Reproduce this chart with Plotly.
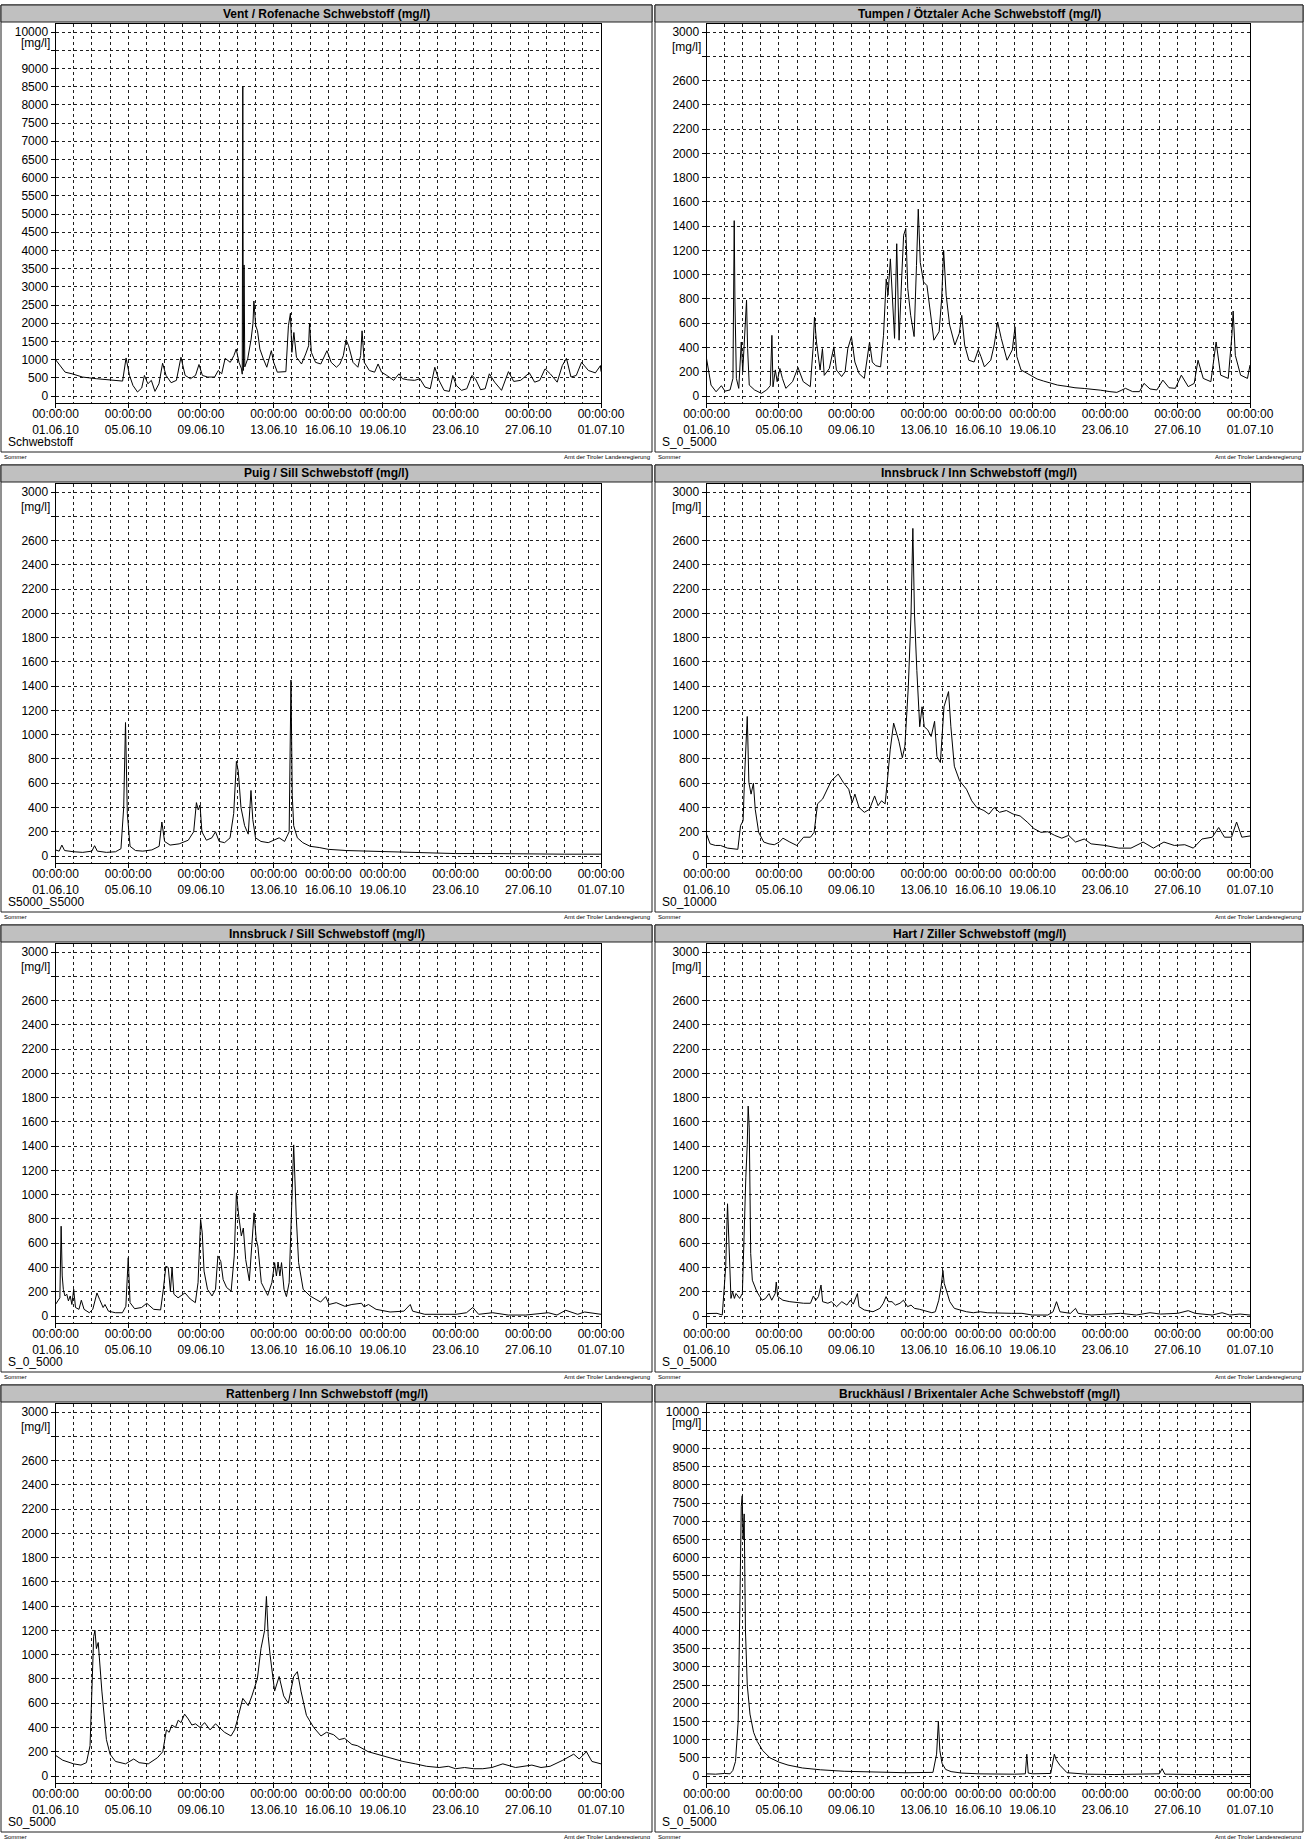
import pandas as pd
import plotly.graph_objects as go

# ---------------- data (day offset since 01.06.2010 00:00, value mg/l) ----------------
titles = [
    "Vent / Rofenache Schwebstoff (mg/l)",
    "Tumpen / Ötztaler Ache Schwebstoff (mg/l)",
    "Puig / Sill Schwebstoff (mg/l)",
    "Innsbruck / Inn Schwebstoff (mg/l)",
    "Innsbruck / Sill Schwebstoff (mg/l)",
    "Hart / Ziller Schwebstoff (mg/l)",
    "Rattenberg / Inn Schwebstoff (mg/l)",
    "Bruckhäusl / Brixentaler Ache Schwebstoff (mg/l)",
]
bottom_labels = ["Schwebstoff", "S_0_5000", "S5000_S5000", "S0_10000",
                 "S_0_5000", "S_0_5000", "S0_5000", "S_0_5000"]
y_max = [10000, 3000, 3000, 3000, 3000, 3000, 3000, 10000]
y_step = [500, 200, 200, 200, 200, 200, 200, 500]

x_tick_dates = ["2010-06-01", "2010-06-05", "2010-06-09", "2010-06-13", "2010-06-16",
                "2010-06-19", "2010-06-23", "2010-06-27", "2010-07-01"]
x_tick_text = ["00:00:00<br>01.06.10", "00:00:00<br>05.06.10", "00:00:00<br>09.06.10",
               "00:00:00<br>13.06.10", "00:00:00<br>16.06.10", "00:00:00<br>19.06.10",
               "00:00:00<br>23.06.10", "00:00:00<br>27.06.10", "00:00:00<br>01.07.10"]

vent_day = [0, 0.53, 0.91, 1.49, 2.25, 3.02, 3.69, 3.88, 4.07, 4.26, 4.51, 4.74, 4.89, 5.08, 5.27, 5.47,
            5.69, 5.89, 6.08, 6.36, 6.65, 6.9, 7.13, 7.42, 7.7, 7.89, 8.08, 8.37, 8.75, 8.95, 9.14, 9.33,
            9.61, 9.81, 9.94, 10.09, 10.23, 10.27, 10.3, 10.33, 10.37, 10.41, 10.57, 10.76, 10.86, 10.91,
            11.01, 11.11, 11.24, 11.43, 11.62, 11.87, 12.0, 12.2, 12.67, 12.81, 12.92, 13.0, 13.11,
            13.25, 13.53, 13.76, 13.92, 13.97, 14.07, 14.3, 14.59, 14.93, 15.16, 15.45, 15.64, 15.83,
            15.98, 16.12, 16.36, 16.63, 16.78, 16.86, 16.98, 17.26, 17.55, 17.74, 17.93, 18.22, 18.6,
            18.89, 19.08, 19.37, 19.75, 20.04, 20.32, 20.61, 20.86, 21.09, 21.37, 21.66, 21.85, 22.04,
            22.33, 22.62, 22.9, 23.09, 23.38, 23.63, 23.86, 24.15, 24.53, 24.91, 25.2, 25.58, 26.06,
            26.35, 26.63, 26.92, 27.21, 27.59, 27.87, 28.1, 28.35, 28.64, 28.93, 29.31, 29.69, 29.97, 30.0]
vent_val = [1000, 655, 610, 520, 475, 445, 410, 1045, 565, 290, 110, 220, 565, 335, 430, 127,
            335, 900, 565, 365, 430, 1065, 565, 475, 565, 865, 565, 520, 520, 700, 610, 1035,
            925, 1110, 1290, 925, 745, 600, 8500, 700, 3600, 800, 1020, 1565, 2000, 2610,
            1930, 1790, 1290, 1020, 790, 1245, 925, 655, 670, 1930, 2275, 1200, 1745,
            1065, 880, 1155, 1380, 2000, 1200, 925, 880, 1245, 925, 790, 880, 1110,
            1545, 1380, 925, 790, 1110, 1790, 925, 700, 655, 880, 655, 565, 430,
            610, 475, 445, 430, 475, 245, 200, 790, 430, 155, 127, 565, 290,
            155, 200, 565, 475, 172, 200, 610, 380, 155, 670, 400, 430, 635,
            380, 430, 745, 610, 380, 835, 1035, 520, 565, 925, 700, 635, 835, 670]

tumpen_day = [0, 0.25, 0.53, 0.82, 1.02, 1.3, 1.46, 1.5, 1.53, 1.57, 1.65, 1.78, 1.92, 2.0, 2.13, 2.21,
              2.27, 2.36, 2.65, 3.03, 3.32, 3.52, 3.61, 3.67, 3.8, 3.9, 4.05, 4.19, 4.38, 4.75, 5.05, 5.34,
              5.73, 5.88, 5.96, 6.07, 6.27, 6.4, 6.5, 6.78, 7.03, 7.17, 7.46, 7.65, 7.8, 8.0, 8.19,
              8.42, 8.71, 8.9, 9.0, 9.15, 9.34, 9.61, 9.77, 9.92, 10.02, 10.15, 10.25, 10.38, 10.5, 10.63,
              10.78, 10.88, 11.0, 11.11, 11.27, 11.46, 11.59, 11.69, 11.8, 11.98, 12.17, 12.3, 12.55,
              12.84, 12.98, 13.09, 13.23, 13.42, 13.71, 13.95, 14.09, 14.25, 14.48, 14.77, 15.0, 15.15,
              15.34, 15.69, 15.88, 16.07, 16.27, 16.59, 16.88, 17.03, 17.13, 17.36, 17.84, 18.25, 18.61,
              19.05, 19.38, 19.85, 20.34, 20.85, 21.3, 21.75, 22.27, 22.65, 23.13, 23.52, 23.9, 24.15, 24.48,
              24.86, 25.19, 25.53, 25.88, 26.21, 26.59, 26.92, 27.13, 27.42, 27.84, 28.13, 28.38, 28.8,
              29.0, 29.07, 29.19, 29.48, 29.86, 30.0]
tumpen_val = [310, 90, 35, 85, 40, 50, 145, 940, 1445, 775, 145, 63, 445, 200, 555, 790,
              390, 90, 50, 22, 50, 85, 500, 75, 215, 118, 227, 145, 63, 118, 235, 118,
              77, 390, 650, 445, 215, 390, 170, 227, 405, 215, 160, 200, 390, 490, 280,
              185, 145, 325, 445, 280, 250, 240, 500, 965, 830, 1130, 800, 475, 1255, 460,
              995, 1325, 1380, 885, 665, 490, 1075, 1540, 1100, 940, 910, 750, 460,
              530, 800, 1200, 830, 585, 420, 515, 665, 420, 295, 280, 380, 325,
              240, 295, 420, 610, 475, 295, 380, 570, 325, 215, 172, 140, 123,
              105, 90, 80, 68, 62, 58, 48, 36, 30, 63, 36, 36, 104, 58,
              50, 131, 68, 63, 172, 77, 104, 295, 145, 118, 445, 172, 145,
              500, 700, 335, 172, 145, 255]

puig_day = [0, 0.2, 0.35, 0.5, 1.0, 1.5, 2.0, 2.15, 2.3, 2.8, 3.3, 3.6, 3.75, 3.85, 3.95, 4.1, 4.4, 4.8,
            5.3, 5.7, 5.85, 6.0, 6.3, 6.8, 7.3, 7.6, 7.75, 7.85, 7.95, 8.05, 8.3, 8.6, 8.8, 9.0, 9.3,
            9.6, 9.8, 9.95, 10.05, 10.2, 10.4, 10.6, 10.75, 10.85, 11.0, 11.3, 11.7, 12.0, 12.3, 12.6,
            12.85, 12.95, 13.02, 13.1, 13.3, 13.6, 14.0, 14.5, 15.0, 16.0, 17.0, 18.0, 19.0, 20.0,
            22.0, 24.0, 26.0, 28.0, 30.0]
puig_val = [50, 40, 90, 45, 35, 30, 40, 85, 40, 30, 35, 60, 400, 1100, 350, 80, 45, 40,
            50, 80, 280, 120, 90, 100, 130, 200, 440, 380, 420, 200, 130, 150, 200, 120, 110,
            150, 350, 780, 700, 400, 250, 180, 540, 300, 150, 120, 110, 130, 150, 120,
            200, 1450, 500, 250, 150, 110, 80, 70, 55, 45, 40, 35, 30, 25,
            20, 20, 15, 15, 15]

innsinn_day = [0, 0.2, 0.49, 0.77, 1.16, 1.73, 1.88, 2.02, 2.11, 2.25, 2.34, 2.46, 2.59, 2.69, 2.88,
               3.16, 3.45, 3.74, 4.02, 4.22, 4.6, 4.98, 5.36, 5.74, 5.94, 6.13, 6.41, 6.61, 6.89, 7.27,
               7.56, 7.85, 8.04, 8.19, 8.42, 8.71, 9.0, 9.28, 9.47, 9.66, 9.86, 9.99, 10.14, 10.33,
               10.62, 10.81, 10.95, 11.14, 11.29, 11.39, 11.48, 11.61, 11.77, 11.9, 12.02, 12.21, 12.4,
               12.59, 12.72, 12.91, 13.11, 13.36, 13.49, 13.68, 13.97, 14.35, 14.64, 14.92, 15.31,
               15.59, 15.88, 16.17, 16.55, 16.93, 17.31, 17.7, 18.08, 18.46, 18.84, 19.22, 19.61,
               19.99, 20.37, 20.85, 21.23, 22.0, 22.76, 23.43, 24.1, 24.67, 25.25, 25.82, 26.4, 26.87,
               27.35, 27.92, 28.27, 28.59, 28.98, 29.26, 29.55, 30.0]
innsinn_val = [180, 100, 87, 87, 65, 55, 250, 290, 685, 1150, 605, 510, 600, 385, 195,
               115, 100, 93, 115, 147, 115, 87, 155, 155, 195, 430, 470, 535, 620, 675,
               605, 550, 440, 510, 400, 360, 385, 495, 415, 455, 430, 630, 875, 1095,
               945, 810, 905, 1395, 1995, 2700, 1995, 1530, 1065, 1230, 1065, 1040, 985,
               1110, 820, 770, 1230, 1355, 1065, 740, 620, 550, 455, 400, 375,
               345, 400, 360, 375, 345, 330, 280, 225, 195, 200, 170, 147,
               170, 115, 140, 100, 87, 65, 65, 115, 65, 115, 87, 93, 65,
               140, 155, 235, 155, 155, 280, 155, 165]

innssill_day = [0, 0.24, 0.31, 0.37, 0.43, 0.52, 0.62, 0.71, 0.81, 0.9, 1.0, 1.1, 1.29, 1.42, 1.57, 1.86,
                2.05, 2.28, 2.43, 2.62, 2.72, 2.91, 3.29, 3.68, 3.87, 4.0, 4.1, 4.35, 4.73, 5.02, 5.4,
                5.78, 5.93, 6.07, 6.2, 6.32, 6.41, 6.51, 6.74, 7.12, 7.41, 7.69, 7.84, 7.98, 8.07, 8.17,
                8.36, 8.61, 8.8, 8.93, 9.09, 9.22, 9.41, 9.66, 9.83, 9.95, 10.08, 10.22, 10.33, 10.46,
                10.66, 10.79, 10.92, 11.04, 11.13, 11.32, 11.67, 11.9, 12.05, 12.15, 12.24, 12.34, 12.43,
                12.57, 12.7, 12.85, 12.99, 13.1, 13.24, 13.37, 13.62, 14.0, 14.58, 14.86, 15.05, 15.44,
                15.91, 16.3, 16.83, 16.97, 17.21, 17.63, 18.4, 19.16, 19.51, 19.64, 20.31, 21.08, 22.03,
                22.6, 22.95, 23.27, 24.04, 24.9, 25.86, 27.1, 27.58, 28.06, 28.72, 29.1, 30.0]
innssill_val = [95, 150, 740, 330, 220, 165, 180, 125, 165, 95, 220, 70, 55, 130, 55, 27,
                55, 190, 135, 70, 95, 40, 27, 27, 80, 480, 110, 60, 70, 105, 55,
                50, 220, 410, 400, 205, 400, 180, 150, 190, 140, 110, 275, 795, 685, 370,
                220, 165, 220, 495, 450, 300, 235, 205, 495, 1015, 820, 660, 725, 465,
                290, 550, 850, 630, 575, 275, 170, 275, 440, 330, 445, 330, 440,
                220, 160, 275, 960, 1410, 820, 440, 220, 165, 115, 160, 95, 110,
                80, 95, 105, 75, 95, 55, 33, 40, 95, 40, 14, 14, 14,
                27, 70, 14, 27, 8, 8, 27, 8, 47, 14, 33, 14]

hart_day = [0, 0.2, 0.58, 0.87, 0.96, 1.06, 1.16, 1.21, 1.27, 1.31, 1.35, 1.44, 1.54, 1.63, 1.83, 1.98,
            2.07, 2.17, 2.25, 2.3, 2.36, 2.44, 2.53, 2.78, 3.07, 3.26, 3.45, 3.6, 3.79, 3.85, 3.93, 4.22,
            4.6, 4.98, 5.36, 5.74, 5.9, 6.03, 6.18, 6.32, 6.41, 6.7, 6.89, 7.18, 7.47, 7.75, 7.94, 8.1,
            8.33, 8.42, 8.71, 9.19, 9.57, 9.76, 9.91, 10.05, 10.24, 10.43, 10.68, 10.87, 11.1, 11.29,
            11.48, 11.77, 12.05, 12.44, 12.63, 12.82, 12.95, 13.05, 13.12, 13.3, 13.43, 13.68, 13.97,
            14.35, 14.73, 15.11, 15.5, 16.26, 16.83, 17.41, 17.98, 18.84, 19.13, 19.32, 19.51, 20.09,
            20.37, 20.51, 21.23, 22.19, 22.86, 23.72, 24.48, 25.06, 26.01, 26.59, 26.97, 27.92, 28.46,
            28.88, 29.45, 30.0]
hart_val = [20, 22, 22, 8, 185, 405, 925, 705, 515, 420, 145, 200, 145, 185, 145, 185,
            675, 1140, 1415, 1730, 1550, 515, 295, 200, 130, 145, 185, 130, 185, 280, 160, 130,
            118, 110, 105, 105, 165, 130, 160, 255, 118, 105, 118, 77, 118, 90, 130, 98,
            185, 77, 50, 35, 63, 105, 160, 118, 118, 90, 105, 130, 77, 90,
            63, 55, 44, 27, 35, 130, 240, 375, 270, 185, 118, 63, 50,
            35, 27, 35, 27, 22, 22, 22, 8, 8, 35, 118, 35, 22,
            63, 22, 8, 16, 22, 8, 27, 16, 22, 44, 22, 8, 27,
            8, 16, 8]

ratt_day = [0, 0.4, 1.0, 1.4, 1.7, 1.9, 2.0, 2.1, 2.17, 2.25, 2.35, 2.55, 2.8, 3.0, 3.3, 3.6, 3.85, 4.3,
            4.6, 5.1, 5.6, 5.9, 6.1, 6.25, 6.4, 6.6, 6.75, 6.9, 7.1, 7.3, 7.5, 7.7, 7.95, 8.2, 8.5, 8.8,
            9.0, 9.3, 9.65, 9.85, 10.0, 10.3, 10.6, 10.8, 11.1, 11.3, 11.5, 11.6, 11.7, 11.8, 12.05, 12.3,
            12.55, 12.8, 13.1, 13.3, 13.5, 13.8, 14.2, 14.6, 14.9, 15.3, 15.6, 15.9, 16.3, 16.6, 17.2,
            17.9, 18.5, 19.1, 19.8, 20.4, 21.1, 21.6, 22.0, 22.5, 23.0, 23.5, 24.0, 24.6, 25.3, 25.8,
            26.2, 26.7, 27.2, 27.9, 28.5, 28.8, 29.2, 29.5, 30.0]
ratt_val = [170, 130, 100, 90, 110, 250, 700, 1150, 1200, 1050, 1100, 700, 300, 180, 120, 110, 100, 140,
            110, 100, 150, 200, 380, 360, 420, 400, 460, 440, 510, 470, 420, 430, 400, 440, 380, 430,
            400, 360, 330, 380, 460, 640, 580, 660, 800, 1050, 1200, 1480, 1150, 1000, 700, 820,
            660, 600, 820, 860, 700, 500, 400, 330, 360, 340, 300, 310, 260, 250, 200,
            170, 140, 120, 100, 80, 70, 80, 60, 70, 60, 60, 70, 100, 70, 80,
            90, 70, 80, 130, 180, 140, 200, 120, 100]

bruck_day = [0, 0.5, 1.0, 1.3, 1.45, 1.6, 1.75, 1.85, 1.92, 1.97, 2.02, 2.08, 2.15, 2.25, 2.4, 2.6, 2.8,
             3.1, 3.5, 4.0, 4.5, 5.3, 6.3, 7.6, 9.5, 11.0, 12.5, 12.7, 12.8, 12.88, 13.0, 13.2, 13.5,
             14.1, 15.0, 16.0, 17.0, 17.6, 17.68, 17.76, 18.0, 19.0, 19.2, 19.3, 19.5, 19.9, 21.0, 22.5,
             24.0, 25.0, 25.15, 25.3, 27.0, 28.5, 30.0]
bruck_val = [60, 50, 70, 60, 150, 400, 1500, 5000, 7400, 7700, 6500, 7200, 4000, 2500, 1700, 1200, 950,
             700, 500, 380, 300, 220, 170, 130, 110, 90, 100, 600, 1500, 700, 350, 180, 120,
             80, 60, 50, 50, 60, 600, 80, 60, 70, 600, 450, 300, 90, 50, 40,
             40, 60, 200, 50, 40, 40, 40]

series_days = [vent_day, tumpen_day, puig_day, innsinn_day, innssill_day, hart_day, ratt_day, bruck_day]
series_vals = [vent_val, tumpen_val, puig_val, innsinn_val, innssill_val, hart_val, ratt_val, bruck_val]

# ---------------- figure ----------------
W, H = 1305, 1839
PANEL_H = 460
START = pd.Timestamp("2010-06-01")
FONT = "Liberation Sans, Arial, sans-serif"
GRID_COLOR = "#1e1e1e"

def px(x):
    return x / W

def py(y):
    return 1 - y / H

fig = go.Figure()
shapes = []
annotations = []

for i in range(8):
    col, row = i % 2, i // 2
    top = row * PANEL_H
    n = i + 1
    sx = "" if n == 1 else str(n)
    if col == 0:
        bx0, bx1 = 55.5, 601.0
        fx0, fx1 = 1.0, 652.0
    else:
        bx0, bx1 = 706.5, 1250.0
        fx0, fx1 = 655.0, 1303.0

    ymax, step = y_max[i], y_step[i]
    scale = (396 - 32) / ymax
    ylo = -(403 - 396) / scale
    yhi = ymax + (32 - 24) / scale

    t = [START + pd.Timedelta(days=d) for d in series_days[i]]
    fig.add_trace(go.Scatter(x=t, y=series_vals[i], mode="lines",
                             line=dict(color="black", width=1),
                             xaxis="x" + sx, yaxis="y" + sx, showlegend=False,
                             hoverinfo="skip"))

    yvals = list(range(0, ymax + 1, step))
    ytext = [("" if v == ymax - step else str(v)) for v in yvals]

    grid = dict(showgrid=True, gridcolor=GRID_COLOR, gridwidth=1, griddash="3px,3px")
    fig.update_layout(**{
        "xaxis" + sx: dict(domain=[px(bx0), px(bx1)], anchor="y" + sx, type="date",
                           range=["2010-06-01", "2010-07-01"], automargin=False,
                           tickvals=x_tick_dates, ticktext=x_tick_text,
                           ticks="outside", ticklen=4, tickcolor="black",
                           ticklabelstandoff=-4,
                           tickfont=dict(family=FONT, size=12, color="black"),
                           showline=True, linecolor="black", linewidth=1, mirror=True,
                           zeroline=False, tickangle=0,
                           minor=dict(dtick=86400000, tick0="2010-06-01", showgrid=True,
                                      gridcolor=GRID_COLOR, gridwidth=1, griddash="3px,3px",
                                      ticks=""),
                           **grid),
        "yaxis" + sx: dict(domain=[py(top + 403), py(top + 24)], anchor="x" + sx,
                           range=[ylo, yhi], tickvals=yvals, ticktext=ytext, automargin=False,
                           ticks="outside", ticklen=4, tickcolor="black",
                           tickfont=dict(family=FONT, size=12, color="black"),
                           showline=True, linecolor="black", linewidth=1, mirror=True,
                           zeroline=False, **grid),
    })

    # panel frame
    shapes.append(dict(type="rect", xref="paper", yref="paper",
                       x0=px(fx0), x1=px(fx1), y0=py(top + 452), y1=py(top + 5),
                       line=dict(color="#202020", width=1), layer="below"))
    # title bar
    shapes.append(dict(type="rect", xref="paper", yref="paper",
                       x0=px(fx0), x1=px(fx1), y0=py(top + 22), y1=py(top + 5),
                       fillcolor="#c0c0c0", line=dict(color="#202020", width=1), layer="below"))
    annotations.append(dict(text="<b>" + titles[i] + "</b>", xref="paper", yref="paper",
                            x=px((fx0 + fx1) / 2), y=py(top + 13.5), showarrow=False,
                            xanchor="center", yanchor="middle",
                            font=dict(family=FONT, size=12, color="black")))
    # unit label
    annotations.append(dict(text="[mg/l]", xref="x" + sx + " domain", yref="y" + sx,
                            x=0, y=ymax - 0.63 * step, xanchor="right", yanchor="middle",
                            xshift=-4, showarrow=False,
                            font=dict(family=FONT, size=12, color="black")))
    # bottom-left series label
    annotations.append(dict(text=bottom_labels[i], xref="paper", yref="paper",
                            x=px(fx0 + 5), y=py(top + 442), showarrow=False,
                            xanchor="left", yanchor="middle",
                            font=dict(family=FONT, size=12, color="black")))
    # footer
    annotations.append(dict(text="Sommer", xref="paper", yref="paper",
                            x=px(fx0 + 1), y=py(top + 456.5), showarrow=False,
                            xanchor="left", yanchor="middle",
                            font=dict(family=FONT, size=6, color="black")))
    annotations.append(dict(text="Amt der Tiroler Landesregierung", xref="paper", yref="paper",
                            x=px(fx1), y=py(top + 456.5), showarrow=False,
                            xanchor="right", yanchor="middle",
                            font=dict(family=FONT, size=6, color="black")))

fig.update_layout(width=W, height=H,
                  margin=dict(l=0, r=0, t=0, b=0, pad=0, autoexpand=False),
                  paper_bgcolor="white", plot_bgcolor="white",
                  shapes=shapes, annotations=annotations, showlegend=False,
                  font=dict(family=FONT, size=12, color="black"))

fig.write_html("out.html")
